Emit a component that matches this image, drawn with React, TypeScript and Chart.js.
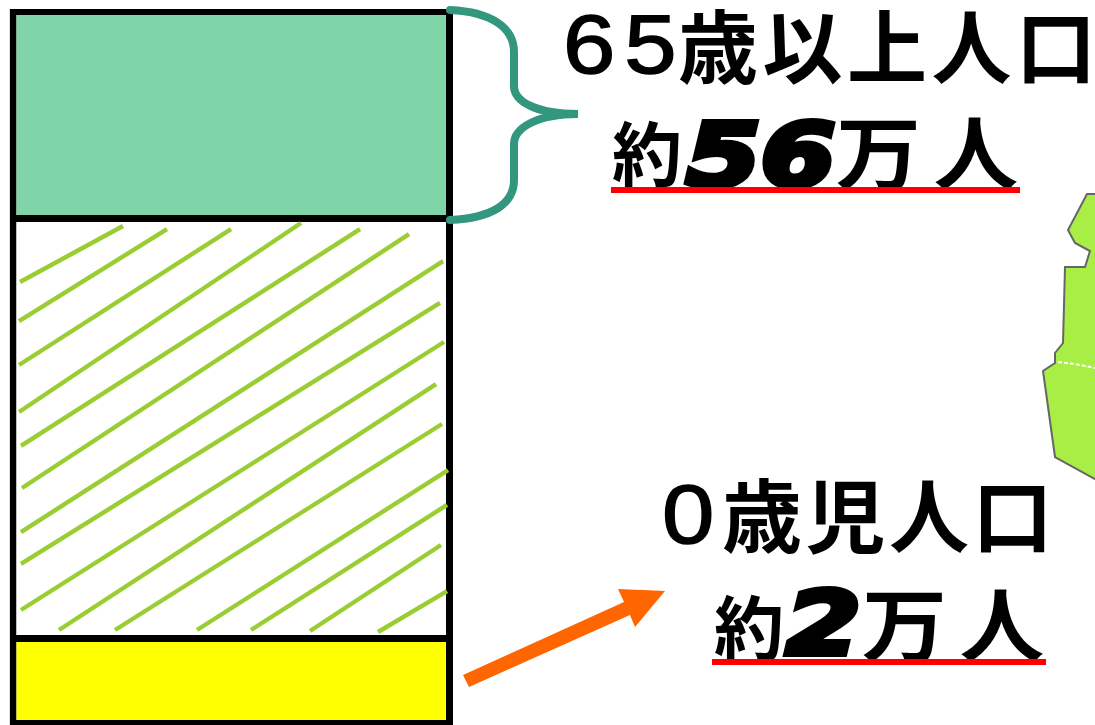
import React, { useEffect, useRef } from "react";
import { Chart, registerables } from "chart.js";

Chart.register(...registerables);

const barCenter = [50];
const youngShare = [12.57];
const middleShare = [58.66];
const elderShare = [28.77];

const hatchStartX = [2.37, 2.14, 2.14, 2.14, 2.59, 2.82, 2.59, 2.59, 2.59, 11.16, 23.79, 42.28, 54.45, 67.76, 83.09];
const hatchStartY = [61.87, 56.42, 50.28, 43.71, 38.97, 33.1, 26.95, 22.49, 16.06, 13.27, 13.27, 13.27, 13.27, 13.13, 12.99];
const hatchEndX = [25.59, 35.51, 49.94, 65.73, 79.03, 90.08, 97.75, 97.07, 97.97, 96.17, 97.52, 98.87, 98.65, 97.29, 98.65];
const hatchEndY = [69.69, 69.27, 69.27, 70.11, 69.27, 68.57, 64.8, 58.94, 53.49, 47.62, 42.04, 35.61, 30.73, 25.14, 18.71];

const JP = '"Noto Sans CJK JP", sans-serif';
const LATIN = '"Liberation Sans", sans-serif';
const HEAVY = '"DejaVu Sans", sans-serif';

type Run = { t: string; x: number; y: number; size: number; sx?: number; ls?: number; kind?: "heavy" | "latin" };

const runs: Run[] = [
  { t: "65", x: 563, y: -2, size: 84, ls: 8, sx: 1.12, kind: "latin" },
  { t: "歳以上人口", x: 678, y: -2, size: 80, ls: 4.5 },
  { t: "約", x: 612, y: 112, size: 70 },
  { t: "56", x: 686, y: 108, size: 88, sx: 1.22, kind: "heavy" },
  { t: "万人", x: 836, y: 104, size: 80, sx: 1.06, ls: 12 },
  { t: "0", x: 662, y: 468, size: 84, sx: 1.12, kind: "latin" },
  { t: "歳児人口", x: 722, y: 467, size: 80, ls: 3.5 },
  { t: "約", x: 714, y: 586, size: 70 },
  { t: "2", x: 786, y: 576, size: 88, sx: 1.22, kind: "heavy" },
  { t: "万人", x: 862, y: 576, size: 80, sx: 1.06, ls: 12 },
];

export default function App() {
  const canvasRef = useRef<HTMLCanvasElement>(null);

  useEffect(() => {
    const hatch = hatchStartX.map((x0, i) => ({
      type: "scatter" as const,
      label: `hatch${i}`,
      data: [
        { x: x0, y: hatchStartY[i] },
        { x: hatchEndX[i], y: hatchEndY[i] },
      ],
      xAxisID: "x",
      yAxisID: "yh",
      showLine: true,
      borderColor: "#9ACD32",
      borderWidth: 4.4,
      pointRadius: 0,
      order: 0,
    }));
    const barBase = {
      type: "bar" as const,
      xAxisID: "x",
      yAxisID: "y",
      borderColor: "#000000",
      borderSkipped: false,
      inflateAmount: 0,
      barThickness: 443.5,
      order: 1,
    };
    const toPoints = (values: number[]) => values.map((y, i) => ({ x: barCenter[i], y }));
    const chart = new Chart(canvasRef.current!, {
      data: {
        datasets: [
          { ...barBase, label: "0歳児人口", data: toPoints(youngShare), backgroundColor: "#FFFF00", borderWidth: { top: 7, left: 7, right: 7, bottom: 5 } },
          { ...barBase, label: "その他", data: toPoints(middleShare), backgroundColor: "#FFFFFF", borderWidth: { top: 7, left: 7, right: 7, bottom: 0 } },
          { ...barBase, label: "65歳以上人口", data: toPoints(elderShare), backgroundColor: "#7FD4A8", borderWidth: { top: 6, left: 7, right: 7, bottom: 0 } },
          ...hatch,
        ] as any,
      },
      options: {
        responsive: false,
        animation: false,
        layout: { padding: { left: 9.5, right: 642, top: 9, bottom: 0 } },
        plugins: { legend: { display: false }, tooltip: { enabled: false }, title: { display: false } },
        scales: {
          x: { type: "linear", offset: false, stacked: true, display: false, min: 0, max: 100 },
          y: { type: "linear", stacked: true, display: false, min: 0, max: 100 },
          yh: { type: "linear", display: false, min: 0, max: 100 },
        },
      },
    });
    return () => chart.destroy();
  }, []);

  return (
    <div style={{ position: "fixed", left: 0, top: 0, width: 1095, height: 725, overflow: "hidden", background: "#fff" }}>
      <canvas ref={canvasRef} width={1095} height={725} style={{ position: "absolute", left: 0, top: 0, display: "block" }} />
      <svg width={1095} height={725} style={{ position: "absolute", left: 0, top: 0 }}>
        <path d="M450 10 C492 12 514 28 514 52 L514 86 C514 102 537 114 578 114 C537 114 514 128 514 144 L514 180 C514 204 492 218 450 220" fill="none" stroke="#33967F" strokeWidth={8} strokeLinecap="round" />
        <polygon points="463,675 624,602 618,589 665,591 635,627 630,615 469,687" fill="#FF6600" />
        <polygon points="1087,194 1100,194 1100,482 1055,457 1043,371 1055,363 1055,353 1063,343 1065,267 1085,267 1090,251 1075,243 1068,230" fill="#A9EE45" stroke="#666666" strokeWidth={2} />
        <polyline points="1058,362 1075,364 1095,368" fill="none" stroke="#FFFFFF" strokeWidth={2} strokeDasharray="4 2" />
      </svg>
      {runs.map((r, i) => (
        <span
          key={i}
          style={{
            position: "absolute",
            left: r.x,
            top: r.y,
            fontFamily: r.kind === "heavy" ? HEAVY : r.kind === "latin" ? LATIN : JP,
            fontWeight: r.kind === "latin" ? 400 : 700,
            fontStyle: r.kind === "heavy" ? "italic" : "normal",
            fontSize: r.size,
            lineHeight: 1.1,
            letterSpacing: r.ls ?? 0,
            color: "#000",
            whiteSpace: "nowrap",
            transform: r.sx ? `scaleX(${r.sx})` : undefined,
            transformOrigin: "left top",
            WebkitTextStroke: r.kind === "heavy" ? "6px #000" : r.kind === "latin" ? "1.5px #000" : undefined,
          }}
        >
          {r.t}
        </span>
      ))}
      <div style={{ position: "absolute", left: 611, top: 187, width: 409, height: 6, background: "#FF0000" }} />
      <div style={{ position: "absolute", left: 712, top: 659, width: 334, height: 6, background: "#FF0000" }} />
    </div>
  );
}
